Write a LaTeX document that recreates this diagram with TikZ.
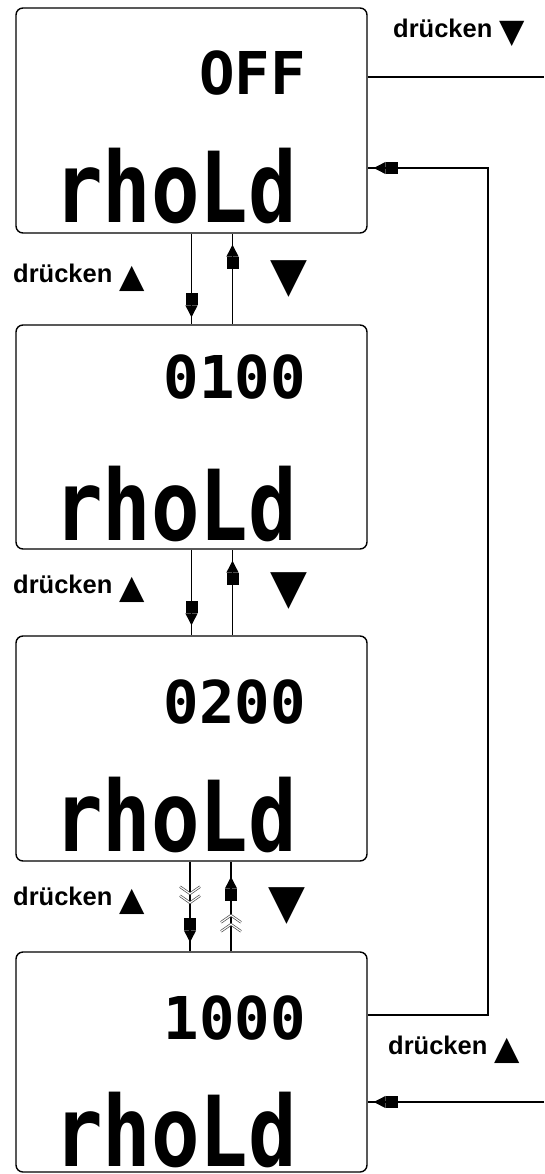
\documentclass[tikz,border=0pt]{standalone}
\usepackage{fontspec}
\usepackage{graphicx}
\setmainfont{Liberation Sans}
\newfontfamily\lcdfont{DejaVu Sans Mono}
\newfontfamily\symfont{DejaVu Sans}
\usetikzlibrary{arrows.meta,decorations.markings}

\newcommand{\tri}[1]{\raisebox{-5pt}{\symfont\fontsize{33}{33}\selectfont#1}}
\newcommand{\lcdword}{\scalebox{0.84}[1.02]{rhoLd}}

\tikzset{
  plug/.tip={Rectangle[length=12pt,width=12pt] Triangle[length=12pt,width=12pt]},
  lcdbox/.style={draw, line width=1.4pt, rounded corners=7pt, minimum width=351pt, minimum height=225pt},
  lcdnum/.style={font=\lcdfont\bfseries\fontsize{59}{59}\selectfont, anchor=base east},
  lcdtext/.style={font=\lcdfont\bfseries\fontsize{96}{96}\selectfont, anchor=base west},
  press/.style={font=\bfseries\fontsize{25.5}{25.5}\selectfont, anchor=base west},
  key/.style={font=\symfont\fontsize{48}{48}\selectfont},
  link/.style={line width=1.2pt},
  chevline/.style={draw=black!70, double=white, double distance=1.1pt, line width=0.7pt},
  headat/.style={postaction={decorate, decoration={markings, mark=at position #1 with {\arrow{plug}}}}},
  chevat/.style={postaction={decorate, decoration={markings, mark=at position #1 with {
      \draw[chevline] (-7pt,10pt) -- (0pt,0pt) -- (-7pt,-10pt);
      \draw[chevline] (-16pt,10pt) -- (-9pt,0pt) -- (-16pt,-10pt);}}}},
}

\begin{document}
\begin{tikzpicture}[x=1pt, y=-1pt, every node/.style={inner sep=0pt}]
  \useasboundingbox (0,0) rectangle (544,1174);

  \node[lcdbox] (box1) at (191.5,120.5) {};
  \node[lcdnum] (val1) at (306,95) {OFF};
  \node[lcdtext] (word1) at (54,223) {\lcdword};

  \node[lcdbox, minimum height=224pt] (box2) at (191.5,437) {};
  \node[lcdnum] (val2) at (306,398) {0100};
  \node[lcdtext] (word2) at (54,540) {\lcdword};

  \node[lcdbox] (box3) at (191.5,748.5) {};
  \node[lcdnum] (val3) at (306,723) {0200};
  \node[lcdtext] (word3) at (54,851) {\lcdword};

  \node[lcdbox, minimum height=220pt] (box4) at (191.5,1062) {};
  \node[lcdnum] (val4) at (306,1039) {1000};
  \node[lcdtext] (word4) at (54,1166) {\lcdword};

  \node[press] (press12) at (13,282) {drücken \tri{▲}};
  \node[press] (press23) at (13,593) {drücken \tri{▲}};
  \node[press] (press34) at (13,905) {drücken \tri{▲}};
  \node[press] (pressdown) at (393,38) {drücken \tri{▼}};
  \node[press] (pressup) at (388,1054) {drücken \tri{▲}};

  \node[key] (key12) at (288.5,279) {▼};
  \node[key] (key23) at (288.5,591.5) {▼};
  \node[key] (key34) at (286.5,906) {▼};

  \draw[link, headat=-7pt] (box1.south) -- (box2.north);
  \draw[link, headat=-11pt] ([xshift=41pt]box2.north) -- ([xshift=41pt]box1.south);
  \draw[link, headat=-10pt] (box2.south) -- (box3.north);
  \draw[link, headat=-11pt] ([xshift=41pt]box3.north) -- ([xshift=41pt]box2.south);
  \draw[link, chevat=41pt, headat=-9pt] ([xshift=-1.5pt]box3.south) -- ([xshift=-1.5pt]box4.north);
  \draw[link, chevat=36pt, headat=-15pt] ([xshift=39.5pt]box4.north) -- ([xshift=39.5pt]box3.south);

  \coordinate (outend) at (544,77);
  \coordinate (turnhigh) at (488,168);
  \coordinate (turnlow) at (488,1015);
  \coordinate (inend) at (544,1102);
  \draw[link] (box1.east |- outend) -- (outend);
  \draw[link, headat=-6pt] (box4.east |- turnlow) -- (turnlow) -- (turnhigh) -- (box1.east |- turnhigh);
  \draw[link, headat=-6pt] (inend) -- (box4.east |- inend);
\end{tikzpicture}
\end{document}
